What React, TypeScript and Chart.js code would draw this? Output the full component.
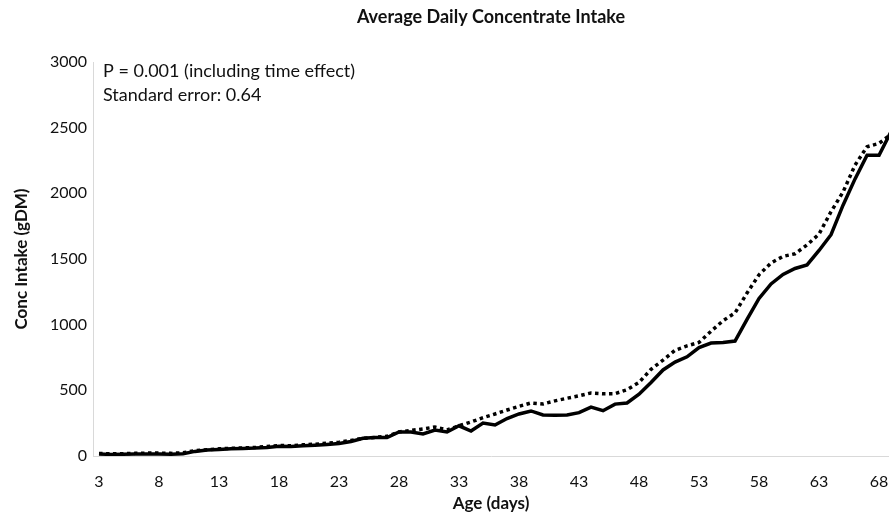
import React, { useEffect, useRef } from 'react';
import { Chart, registerables } from 'chart.js';

Chart.register(...registerables);

const DAYS = [
  3, 4, 5, 6, 7, 8, 9, 10, 11, 12, 13, 14, 15, 16, 17, 18, 19, 20, 21, 22, 23, 24, 25, 26, 27, 28, 29, 30,
  31, 32, 33, 34, 35, 36, 37, 38, 39, 40, 41, 42, 43, 44, 45, 46, 47, 48, 49, 50, 51, 52, 53, 54, 55, 56,
  57, 58, 59, 60, 61, 62, 63, 64, 65, 66, 67, 68, 69,
];

const SOLID_SERIES = [
  15, 12, 14, 15, 15, 16, 14, 18,
  35, 45, 50, 55, 58, 60, 65, 75, 72, 78,
  82, 88, 95, 110, 135, 140, 140, 183, 183, 168,
  198, 183, 230, 190, 251, 236, 285, 320, 343, 312,
  310, 312, 330, 372, 345, 395, 404, 470, 560, 655,
  715, 755, 825, 860, 865, 875, 1040, 1200, 1310, 1382,
  1428, 1455, 1565, 1685, 1910, 2110, 2290, 2290, 2470,
];

const DOTTED_SERIES = [
  20, 16, 18, 20, 22, 22, 20, 25,
  40, 48, 55, 58, 62, 65, 72, 80, 78, 85,
  90, 97, 105, 118, 135, 142, 150, 183, 195, 206,
  221, 198, 230, 259, 292, 320, 350, 378, 404, 396,
  420, 440, 458, 480, 474, 475, 505, 560, 660, 730,
  805, 838, 865, 950, 1030, 1090, 1241, 1380, 1470, 1520,
  1540, 1607, 1690, 1860, 2010, 2215, 2355, 2380, 2450,
];

const X_TICKS = [3, 8, 13, 18, 23, 28, 33, 38, 43, 48, 53, 58, 63, 68];
const Y_TICKS = [0, 500, 1000, 1500, 2000, 2500, 3000];

const TITLE = 'Average Daily Concentrate Intake';
const NOTES = ['P = 0.001 (including time effect)', 'Standard error: 0.64'];
const X_TITLE = 'Age (days)';
const Y_TITLE = 'Conc Intake (gDM)';

const FONT = 'Lato, "Open Sans", sans-serif';
const TEXT_COLOR = '#111111';

export default function App() {
  const canvasRef = useRef<HTMLCanvasElement | null>(null);

  useEffect(() => {
    document.body.style.margin = '0';
    const canvas = canvasRef.current;
    if (!canvas) return;

    const textPlugin = {
      id: 'textPlugin',
      afterDraw(chart: any) {
        const ctx = chart.ctx as CanvasRenderingContext2D;
        const area = chart.chartArea;
        const midX = (area.left + area.right) / 2;
        ctx.save();
        ctx.fillStyle = TEXT_COLOR;
        // title
        ctx.font = `bold 18px ${FONT}`;
        ctx.textAlign = 'center';
        ctx.textBaseline = 'middle';
        ctx.fillText(TITLE, midX, 17);
        // notes
        ctx.font = `18px ${FONT}`;
        ctx.textAlign = 'left';
        ctx.fillText(NOTES[0], 103, 71);
        ctx.fillText(NOTES[1], 103, 95);
        // x title
        ctx.font = `bold 17px ${FONT}`;
        ctx.textAlign = 'center';
        ctx.fillText(X_TITLE, midX, 504);
        // y title
        ctx.translate(22, (area.top + area.bottom) / 2);
        ctx.rotate(-Math.PI / 2);
        ctx.fillText(Y_TITLE, 0, 0);
        ctx.restore();
      },
    };

    const chart = new Chart(canvas, {
      type: 'line',
      data: {
        labels: DAYS,
        datasets: [
          {
            label: 'Treatment A',
            data: DAYS.map((d, i) => ({ x: d, y: SOLID_SERIES[i] })),
            borderColor: '#000000',
            backgroundColor: '#000000',
            borderWidth: 3.5,
            pointRadius: 0,
            tension: 0,
            fill: false,
          },
          {
            label: 'Treatment B',
            data: DAYS.map((d, i) => ({ x: d, y: DOTTED_SERIES[i] })),
            borderColor: '#000000',
            backgroundColor: '#000000',
            borderWidth: 3.5,
            borderDash: [3.5, 3.5],
            pointRadius: 0,
            tension: 0,
            fill: false,
          },
        ],
      },
      options: {
        animation: false,
        responsive: false,
        maintainAspectRatio: false,
        layout: { padding: { top: 62, left: 0, right: 0, bottom: 0 } },
        plugins: {
          legend: { display: false },
          title: { display: false },
          tooltip: { enabled: false },
        },
        scales: {
          x: {
            type: 'linear',
            min: 2.5,
            max: 68.83,
            afterBuildTicks: (s: any) => {
              s.ticks = X_TICKS.map((v) => ({ value: v }));
            },
            afterFit: (s: any) => {
              s.height = 61;
              s.paddingLeft = 0;
              s.paddingRight = 0;
            },
            grid: { display: false, drawTicks: false },
            border: { display: true, color: '#d9d9d9', width: 1 },
            ticks: {
              autoSkip: false,
              maxRotation: 0,
              padding: 16,
              color: TEXT_COLOR,
              font: { family: FONT, size: 16 },
              callback: (v: any) => String(v),
            },
          },
          y: {
            min: 0,
            max: 3000,
            afterBuildTicks: (s: any) => {
              s.ticks = Y_TICKS.map((v) => ({ value: v }));
            },
            afterFit: (s: any) => {
              s.width = 93;
              s.paddingTop = 0;
              s.paddingBottom = 0;
            },
            grid: { display: false, drawTicks: false },
            border: { display: true, color: '#d9d9d9', width: 1 },
            ticks: {
              padding: 6,
              color: TEXT_COLOR,
              font: { family: FONT, size: 16 },
              callback: (v: any) => String(v),
            },
          },
        },
      },
      plugins: [textPlugin],
    });

    return () => chart.destroy();
  }, []);

  return (
    <div style={{ width: 889, height: 517, background: '#ffffff' }}>
      <canvas ref={canvasRef} width={889} height={517} style={{ display: 'block' }} />
    </div>
  );
}
